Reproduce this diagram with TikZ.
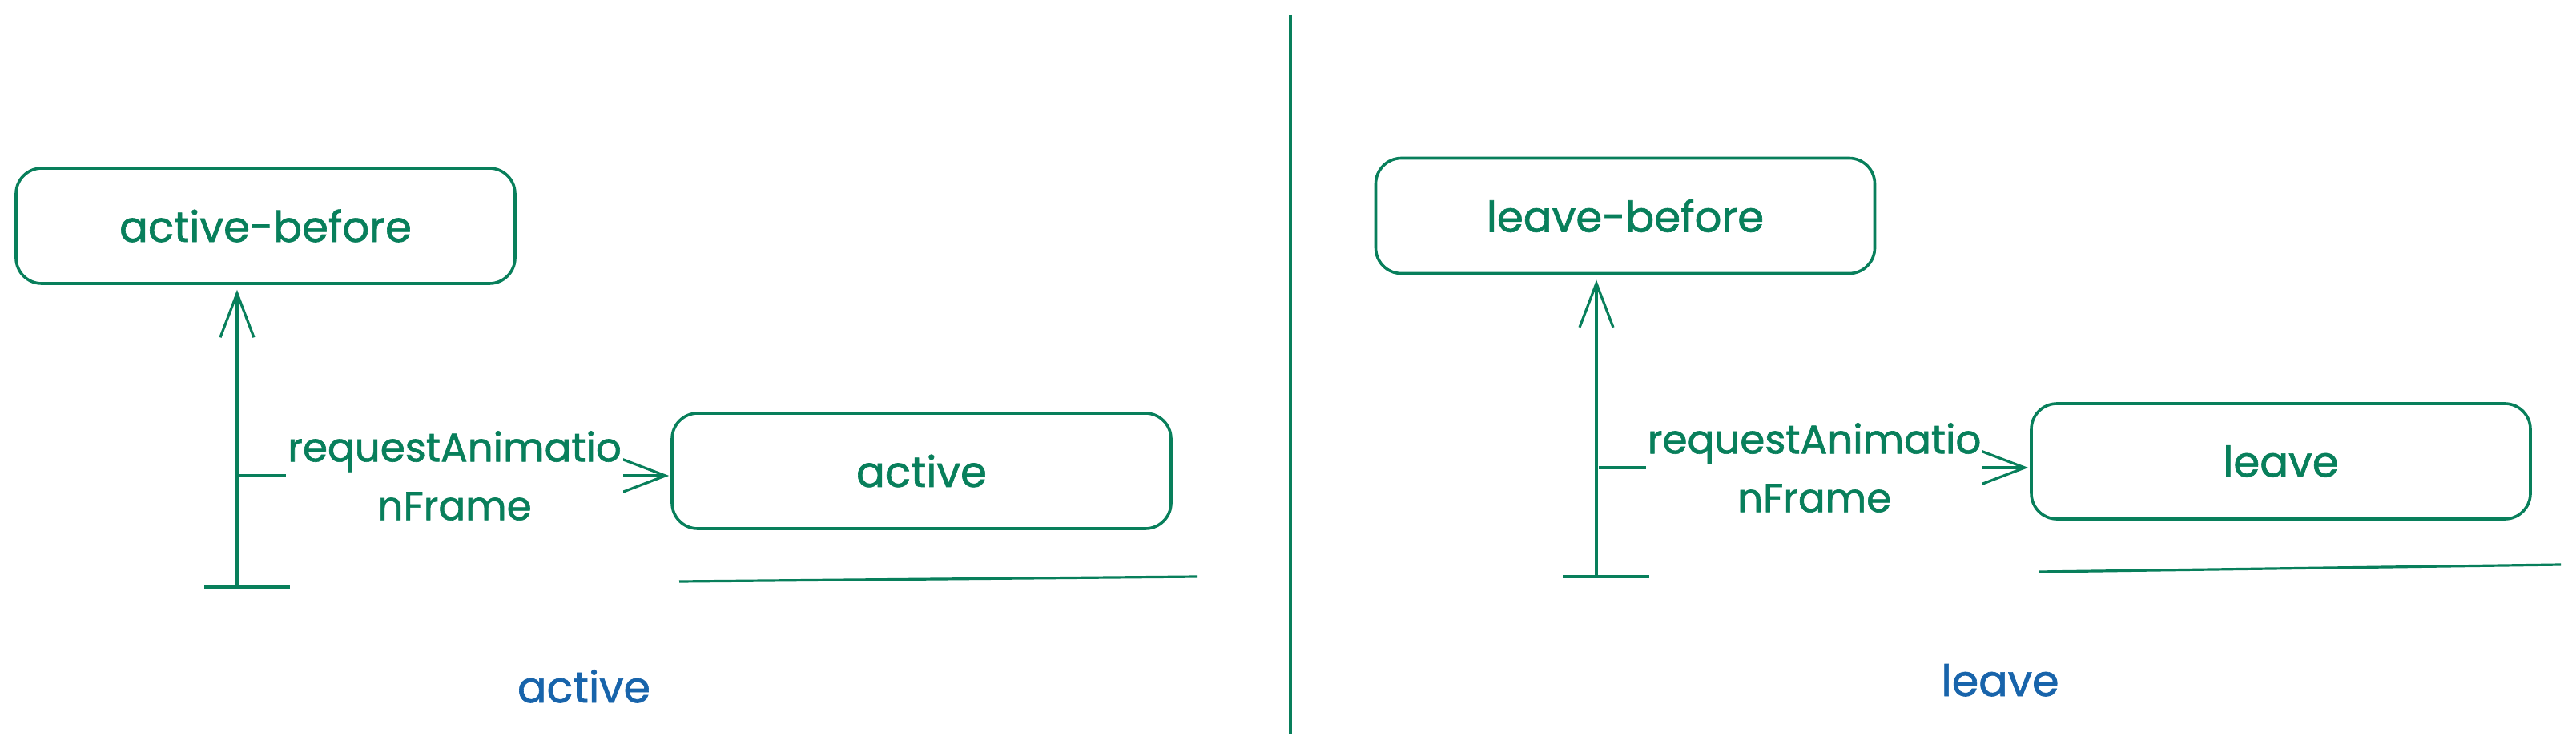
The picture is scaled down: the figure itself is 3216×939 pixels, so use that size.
\documentclass[tikz,border=0pt]{standalone}
\usepackage{fontspec}
\setmainfont{Poppins}[FakeBold=1.2]
\usetikzlibrary{arrows.meta}
\definecolor{grn}{HTML}{087F5B}
\definecolor{blu}{HTML}{1864AB}
\begin{document}
\begin{tikzpicture}[x=1pt,y=-1pt,
  boxnode/.style={draw=grn, line width=3.6pt, rounded corners=32pt, minimum width=623pt, minimum height=144pt, text=grn, font=\fontsize{53}{64}\selectfont, inner sep=0pt},
  conn/.style={draw=grn, line width=3.2pt, -{Straight Barb[length=55pt,width=42pt,line width=3.2pt]}},
  plainline/.style={draw=grn, line width=3.2pt},
  lbl/.style={fill=white, text=grn, align=center, font=\fontsize{50}{73}\selectfont, inner sep=2pt},
  caption/.style={text=blu, font=\fontsize{54}{64}\selectfont, anchor=base, inner sep=0pt}
]
\fill[white] (0,0) rectangle (3216,939);
\useasboundingbox (0,0) rectangle (3216,939);

% ---------- left: active ----------
\node[boxnode] (ab) at (331.5,282) {active-before};
\node[boxnode] (a) at (1150.5,588) {active};
\coordinate (abot) at (296,733);
\coordinate (abl) at (255,733);
\coordinate (abr) at (362,733);
\draw[plainline] (abl) -- (abr);
\draw[conn, shorten >=6pt] (abot) -- (abot |- ab.south);
\coordinate (as) at (298,594);
\draw[conn, shorten >=2pt] (as) -- node[lbl] (alab) {requestAnimatio\\nFrame} (as -| a.west);
\coordinate (aul) at (848,726);
\coordinate (aur) at (1495,720);
\draw[plainline] (aul) -- (aur);
\node[caption] (acap) at (729,877) {active};

% ---------- divider ----------
\coordinate (dtop) at (1611,19);
\coordinate (dbot) at (1611,916);
\draw[plainline, line width=3.6pt] (dtop) -- (dbot);

% ---------- right: leave ----------
\node[boxnode] (lb) at (2029,269.5) {leave-before};
\node[boxnode] (l) at (2847.5,576) {leave};
\coordinate (lbot) at (1993,720);
\coordinate (lbl) at (1951,720);
\coordinate (lbr) at (2059,720);
\draw[plainline] (lbl) -- (lbr);
\draw[conn, shorten >=6pt] (lbot) -- (lbot |- lb.south);
\coordinate (ls) at (1996,584);
\draw[conn, shorten >=2pt] (ls) -- node[lbl] (llab) {requestAnimatio\\nFrame} (ls -| l.west);
\coordinate (lul) at (2545,714);
\coordinate (lur) at (3197,705);
\draw[plainline] (lul) -- (lur);
\node[caption] (lcap) at (2497,869) {leave};
\end{tikzpicture}
\end{document}
